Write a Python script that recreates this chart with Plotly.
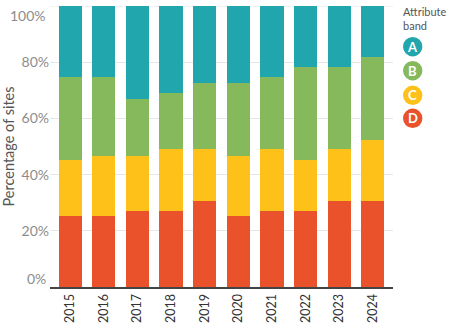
import plotly.graph_objects as go

years = ["2015", "2016", "2017", "2018", "2019", "2020", "2021", "2022", "2023", "2024"]
band_d = [25.3, 25.3, 27.0, 27.0, 30.7, 25.3, 27.0, 27.0, 30.7, 30.7]
band_c = [20.0, 21.4, 19.7, 22.0, 18.3, 21.4, 22.0, 18.3, 18.3, 21.6]
band_b = [29.3, 27.9, 20.3, 20.0, 23.6, 25.9, 25.6, 33.0, 29.3, 29.4]
band_a = [25.4, 25.4, 33.0, 31.0, 27.4, 27.4, 25.4, 21.7, 21.7, 18.3]

tick_vals = [0, 20, 40, 60, 80, 100]
tick_text = ["0%", "20%", "40%", "60%", "80%", "100%"]

bands = ["D", "C", "B", "A"]
colors = {"A": "#21a6ad", "B": "#86b95b", "C": "#fec119", "D": "#e9522a"}
values = {"D": band_d, "C": band_c, "B": band_b, "A": band_a}

fig = go.Figure()
for b in bands:
    fig.add_trace(go.Bar(x=years, y=values[b], name=b, marker=dict(color=colors[b], line=dict(width=0)),
                         showlegend=False))

font_family = "Lato, 'Source Sans Pro', 'Open Sans', sans-serif"

L, R, T, B = 50, 56, 6, 41
W, H = 449, 328
plot_w = W - L - R
plot_h = H - T - B

def px_x(x):
    return (x - L) / plot_w

def px_y(y):
    return (H - B - y) / plot_h

tick_font = dict(size=14, color="#8c8c8c")

fig.update_layout(
    barmode="stack",
    bargap=0.31,
    width=W, height=H,
    margin=dict(l=L, r=R, t=T, b=B, autoexpand=False),
    plot_bgcolor="white", paper_bgcolor="white",
    font=dict(family=font_family, color="#444"),
    xaxis=dict(range=[-0.6, 9.6], tickangle=-90, tickfont=dict(size=12.5, color="#333"),
               showline=True, linecolor="#444", linewidth=2, showgrid=False, ticks="",
               fixedrange=True, automargin=False),
    yaxis=dict(range=[0, 100], tickvals=tick_vals[1:-1], ticktext=tick_text[1:-1],
               tickfont=tick_font, showgrid=True, gridcolor="#e6e6e6", automargin=False,
               gridwidth=1, zeroline=False, ticks="",
               title=dict(text="Percentage of sites", font=dict(size=14.5, color="#555"), standoff=4)),
)

# top gridline at 100%
fig.add_shape(type="line", xref="paper", yref="y", x0=0, x1=1, y0=tick_vals[-1], y1=tick_vals[-1],
              line=dict(color="#e6e6e6", width=1), layer="below")
# edge tick labels kept inside the plot height
fig.add_annotation(x=0, y=tick_vals[-1], xref="paper", yref="y", text=tick_text[-1], showarrow=False,
                   xanchor="right", yanchor="top", xshift=-2, yshift=1, font=tick_font)
fig.add_annotation(x=0, y=tick_vals[0], xref="paper", yref="y", text=tick_text[0], showarrow=False,
                   xanchor="right", yanchor="bottom", xshift=-2, yshift=-2, font=tick_font)

# Legend drawn manually
fig.add_annotation(x=px_x(401), y=px_y(3), xref="paper", yref="paper", text="Attribute<br>band",
                   showarrow=False, xanchor="left", yanchor="top", align="left",
                   font=dict(size=11, color="#555"))
legend_order = ["A", "B", "C", "D"]
centers_px = [46.7, 70.7, 95.3, 118.3]
cx_px = 412.7
r = 9.7
for b, cy in zip(legend_order, centers_px):
    x0, x1 = px_x(cx_px - r), px_x(cx_px + r)
    y0, y1 = px_y(cy + r), px_y(cy - r)
    fig.add_shape(type="circle", xref="paper", yref="paper", x0=x0, x1=x1, y0=y0, y1=y1,
                  fillcolor=colors[b], line=dict(width=0))
    fig.add_annotation(x=(x0 + x1) / 2, y=(y0 + y1) / 2, xref="paper", yref="paper", text="<b>" + b + "</b>",
                       showarrow=False, xanchor="center", yanchor="middle",
                       font=dict(size=13, color="white"))

fig.write_html("out.html")
